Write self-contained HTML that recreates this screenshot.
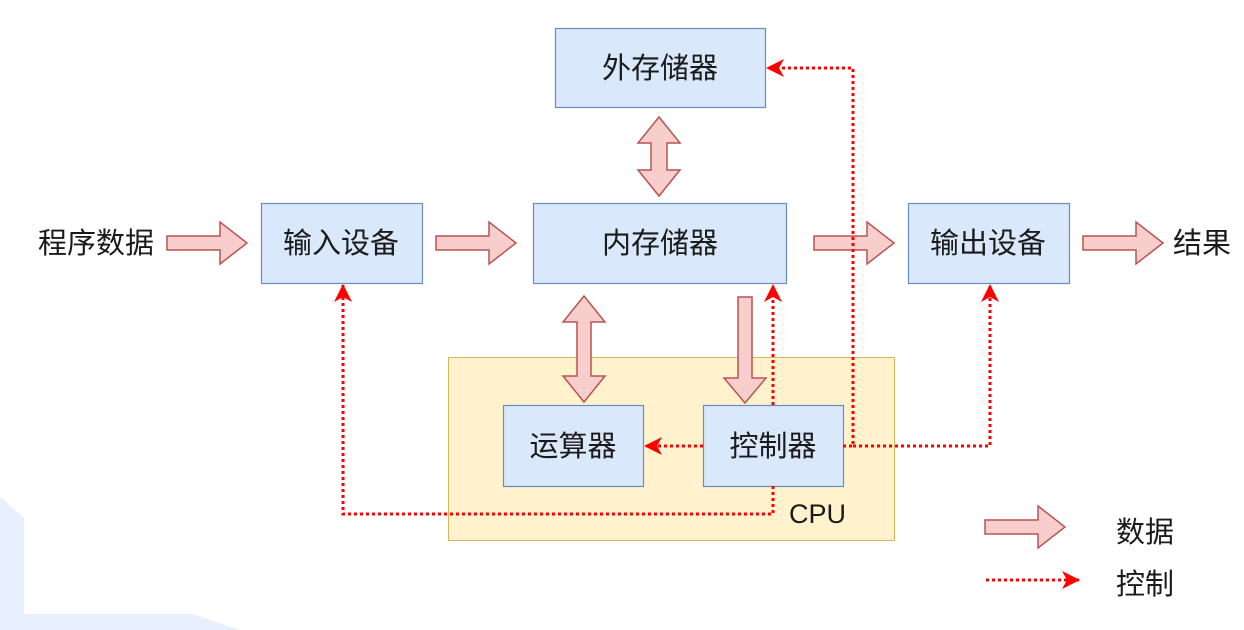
<!DOCTYPE html>
<html><head><meta charset="utf-8"><style>
html,body{margin:0;padding:0;background:#fff;}
svg{display:block;}
text{font-family:"Liberation Sans","Noto Sans CJK SC",sans-serif;font-size:29px;fill:#1a1a1a;}
</style></head><body>
<svg width="1244" height="630" viewBox="0 0 1244 630" xmlns="http://www.w3.org/2000/svg">
<defs>
<marker id="ah" markerWidth="18" markerHeight="18" refX="17" refY="9" orient="auto" markerUnits="userSpaceOnUse" viewBox="0 0 18 18">
<path d="M0,0 L18,9 L0,18 L5,9 Z" fill="#f00"/></marker>
</defs>
<polygon points="0,497 24,518 24,614 193,614 240,630 0,630" fill="#e8effd"/>
<rect x="448.5" y="357.5" width="446" height="183" fill="#fff2cc" stroke="#d6b656"/>
<text x="789" y="523" style="font-size:27px">CPU</text>
<g fill="#dae8fc" stroke="#6c8ebf" stroke-width="1.2">
<rect x="555.5" y="28.5" width="210" height="79"/>
<rect x="261.5" y="203.5" width="161" height="80"/>
<rect x="533.5" y="203.5" width="253" height="80"/>
<rect x="908.5" y="203.5" width="161" height="80"/>
<rect x="503.5" y="405.5" width="140" height="81"/>
<rect x="703.5" y="405.5" width="140" height="81"/>
</g>
<g text-anchor="middle">
<text x="660" y="78">外存储器</text>
<text x="341" y="253">输入设备</text>
<text x="660" y="253">内存储器</text>
<text x="988" y="253">输出设备</text>
<text x="573" y="456">运算器</text>
<text x="773" y="456">控制器</text>
</g>
<text x="38" y="253">程序数据</text>
<text x="1173" y="253">结果</text>
<text x="1116" y="542">数据</text>
<text x="1116" y="594">控制</text>
<g fill="#f8cecc" stroke="#b85450" stroke-width="1.5" stroke-linejoin="miter">
<path d="M167,236 H220 V222 L247,243 L220,264 V250 H167 Z"/>
<path d="M436,236 H489 V222 L516,243 L489,264 V250 H436 Z"/>
<path d="M814,236 H867 V222 L894,243 L867,264 V250 H814 Z"/>
<path d="M1083,236 H1136 V222 L1163,243 L1136,264 V250 H1083 Z"/>
<path d="M985,520 H1038 V506 L1065,527 L1038,548 V534 H985 Z"/>
<path d="M659,117 L680,143 H667 V170 H680 L659,196 L638,170 H651 V143 H638 Z"/>
<path d="M584,296 L605,322 H591 V376 H605 L584,402 L563,376 H577 V322 H563 Z"/>
<path d="M738,297 H752 V378 H766 L745,403 L724,378 H738 Z"/>
</g>
<g fill="none" stroke="#f00" stroke-width="3" stroke-dasharray="3 3">
<path d="M773,405 V285" marker-end="url(#ah)"/>
<path d="M773,486 V514 H343 V285" marker-end="url(#ah)"/>
<path d="M703,446 H645" marker-end="url(#ah)"/>
<path d="M843,446 H853 V68 H767" marker-end="url(#ah)"/>
<path d="M853,446 H990 V285" marker-end="url(#ah)"/>
<path d="M986,580 H1079" marker-end="url(#ah)"/>
</g>
</svg>
</body></html>
